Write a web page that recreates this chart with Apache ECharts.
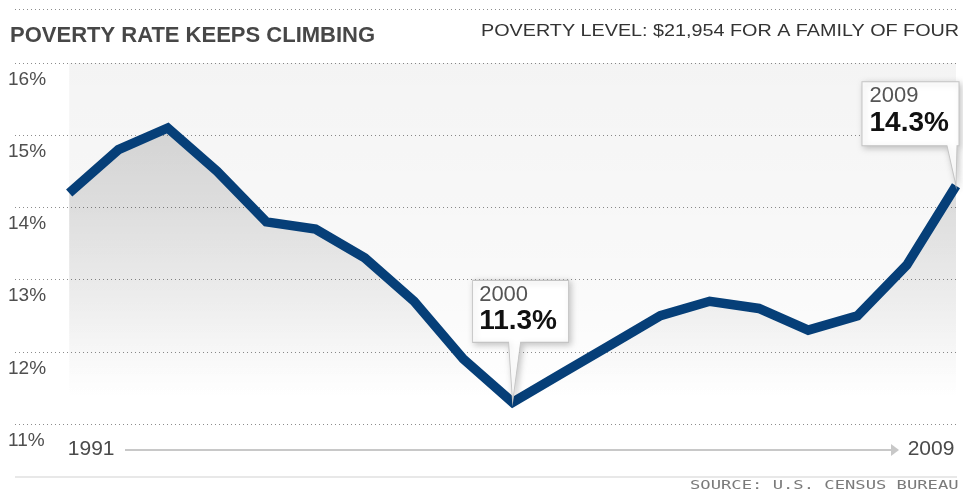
<!DOCTYPE html>
<html>
<head>
<meta charset="utf-8">
<title>Poverty rate keeps climbing</title>
<script src="https://cdn.jsdelivr.net/npm/echarts@6.0.0/dist/echarts.min.js"></script>
<style>
    html, body { margin: 0; padding: 0; background: #ffffff; }
    #chart { width: 963px; height: 493px; }
</style>
</head>
<body>
<div id="chart"></div>
<script>
// Poverty rate chart, 1991 - 2009

// data
const years = [1991, 1992, 1993, 1994, 1995, 1996, 1997, 1998, 1999, 2000,
               2001, 2002, 2003, 2004, 2005, 2006, 2007, 2008, 2009];
const povertyRates = [14.2, 14.8, 15.1, 14.5, 13.8, 13.7, 13.3, 12.7, 11.9, 11.3,
                      11.7, 12.1, 12.5, 12.7, 12.6, 12.3, 12.5, 13.2, 14.3];
const yTicks = [11, 12, 13, 14, 15, 16];
const xLabelYears = [1991, 2009];
const calloutYears = [2000, 2009];

const TITLE = 'POVERTY RATE KEEPS CLIMBING';
const SUBTITLE = 'POVERTY LEVEL: $21,954 FOR A FAMILY OF FOUR';
const SOURCE = 'SOURCE: U.S. CENSUS BUREAU';

// config
const CONFIG = {
    LINE_COLOR: '#063f78',
    GRID_COLOR: '#8c8c8c',
    FONT: 'Arial, "Liberation Sans", sans-serif'
};

// callout shapes (box + pointer), keyed by year
const CALLOUT_SHAPES = {
    2000: { path: 'path://M0,0L96,0L96,62L48,62L40,122L36,62L0,62Z', size: [96, 122], offset: [8, -61], text: [7, 3] },
    2009: { path: 'path://M0,0L97,0L97,64L95,64L94,104L85,64L0,64Z', size: [97, 104], offset: [-45.5, -52], text: [8, 3] }
};

let chart = null;

function initChart() {
    chart = echarts.init(document.getElementById('chart'), null, { renderer: 'canvas' });
    renderChart();
}

function buildCallouts() {
    return calloutYears.map(function (yr) {
        const idx = years.indexOf(yr);
        const shape = CALLOUT_SHAPES[yr];
        return {
            coord: [yr, povertyRates[idx]],
            symbol: shape.path,
            symbolSize: shape.size,
            symbolOffset: shape.offset,
            label: { position: shape.text }
        };
    });
}

function renderChart() {
    const option = {
        animation: false,
        backgroundColor: '#ffffff',
        title: {
            text: TITLE,
            left: 10,
            top: 25,
            padding: 0,
            textStyle: {
                fontFamily: CONFIG.FONT,
                fontSize: 22,
                fontWeight: 'bold',
                color: '#474747'
            }
        },
        grid: {
            left: 15,
            right: 7,
            top: 63,
            bottom: 69,
            containLabel: false,
            outerBoundsMode: 'none'
        },
        xAxis: {
            type: 'value',
            min: 1989.9,
            max: years[years.length - 1],
            axisLine: { show: false },
            axisTick: { show: false },
            splitLine: { show: false },
            axisLabel: {
                customValues: xLabelYears,
                margin: 15,
                fontFamily: CONFIG.FONT,
                fontSize: 21,
                color: '#4a4a4a',
                formatter: function (v) {
                    return v === xLabelYears[0] ? '{s|' + v + '}' : '{e|' + v + '}';
                },
                rich: {
                    s: { fontSize: 21, fontFamily: CONFIG.FONT, color: '#4a4a4a', padding: [0, 0, 0, 44] },
                    e: { fontSize: 21, fontFamily: CONFIG.FONT, color: '#4a4a4a', padding: [0, 50, 0, 0] }
                }
            }
        },
        yAxis: {
            type: 'value',
            min: yTicks[0],
            max: yTicks[yTicks.length - 1],
            interval: 1,
            axisLine: { show: false },
            axisTick: { show: false },
            splitLine: {
                show: true,
                lineStyle: { color: CONFIG.GRID_COLOR, type: [1, 3], width: 1 }
            },
            axisLabel: {
                inside: true,
                margin: -7,
                verticalAlign: 'top',
                padding: [7, 0, 0, 0],
                fontFamily: CONFIG.FONT,
                fontSize: 19,
                color: '#4f4f4f',
                formatter: '{value}%'
            }
        },
        graphic: [
            {
                type: 'line',
                shape: { x1: 15, y1: 9.5, x2: 957, y2: 9.5 },
                style: { stroke: CONFIG.GRID_COLOR, lineWidth: 1, lineDash: [1, 3] },
                silent: true
            },
            {
                type: 'text',
                x: 481,
                y: 32,
                scaleX: 1.235,
                style: {
                    text: SUBTITLE,
                    font: '16px Arial, "Liberation Sans", sans-serif',
                    fill: '#333333',
                    align: 'left',
                    verticalAlign: 'middle'
                },
                silent: true
            },
            // arrow between first and last year
            {
                type: 'line',
                shape: { x1: 125, y1: 450, x2: 893, y2: 450 },
                style: { stroke: '#c8c8c8', lineWidth: 2 },
                silent: true
            },
            {
                type: 'polygon',
                shape: { points: [[891, 444], [899, 450], [891, 456]] },
                style: { fill: '#c8c8c8' },
                silent: true
            },
            {
                type: 'line',
                shape: { x1: 15, y1: 477, x2: 957, y2: 477 },
                style: { stroke: '#e8e8e8', lineWidth: 2 },
                silent: true
            },
            {
                type: 'text',
                x: 690,
                y: 486,
                scaleX: 1.43,
                style: {
                    text: SOURCE,
                    font: '12px "DejaVu Sans Mono", monospace',
                    fill: '#7a7a7a',
                    align: 'left',
                    verticalAlign: 'middle'
                },
                silent: true
            }
        ],
        series: [
            {
                name: 'Poverty rate',
                type: 'line',
                data: years.map(function (y, i) { return [y, povertyRates[i]]; }),
                symbol: 'none',
                silent: true,
                clip: false,
                emphasis: { disabled: true },
                lineStyle: {
                    color: CONFIG.LINE_COLOR,
                    width: 9.5,
                    join: 'miter',
                    cap: 'butt'
                },
                areaStyle: {
                    origin: 'start',
                    color: new echarts.graphic.LinearGradient(0, 0, 0, 1, [
                        { offset: 0, color: 'rgba(0,0,0,0.20)' },
                        { offset: 0.28, color: 'rgba(0,0,0,0.15)' },
                        { offset: 0.52, color: 'rgba(0,0,0,0.09)' },
                        { offset: 0.76, color: 'rgba(0,0,0,0.03)' },
                        { offset: 0.9, color: 'rgba(0,0,0,0)' }
                    ])
                },
                markArea: {
                    silent: true,
                    itemStyle: {
                        color: new echarts.graphic.LinearGradient(0, 0, 0, 1, [
                            { offset: 0, color: 'rgba(0,0,0,0.045)' },
                            { offset: 0.6, color: 'rgba(0,0,0,0.025)' },
                            { offset: 0.95, color: 'rgba(0,0,0,0)' }
                        ])
                    },
                    data: [[
                        { xAxis: years[0], yAxis: yTicks[yTicks.length - 1] },
                        { xAxis: years[years.length - 1], yAxis: yTicks[0] }
                    ]]
                },
                markPoint: {
                    silent: true,
                    animation: false,
                    itemStyle: {
                        color: '#ffffff',
                        borderColor: '#c4c4c4',
                        borderWidth: 1,
                        shadowBlur: 6,
                        shadowColor: 'rgba(0,0,0,0.22)',
                        shadowOffsetX: 2,
                        shadowOffsetY: 2
                    },
                    label: {
                        show: true,
                        align: 'left',
                        verticalAlign: 'top',
                        formatter: function (p) {
                            return '{y|' + p.data.coord[0] + '}\n{v|' + p.data.coord[1].toFixed(1) + '%}';
                        },
                        rich: {
                            y: { fontFamily: CONFIG.FONT, fontSize: 22, color: '#555555', lineHeight: 24 },
                            v: { fontFamily: CONFIG.FONT, fontSize: 28, fontWeight: 'bold', color: '#111111', lineHeight: 30 }
                        }
                    },
                    data: buildCallouts()
                }
            }
        ]
    };

    chart.setOption(option);
}

initChart();
</script>
</body>
</html>
